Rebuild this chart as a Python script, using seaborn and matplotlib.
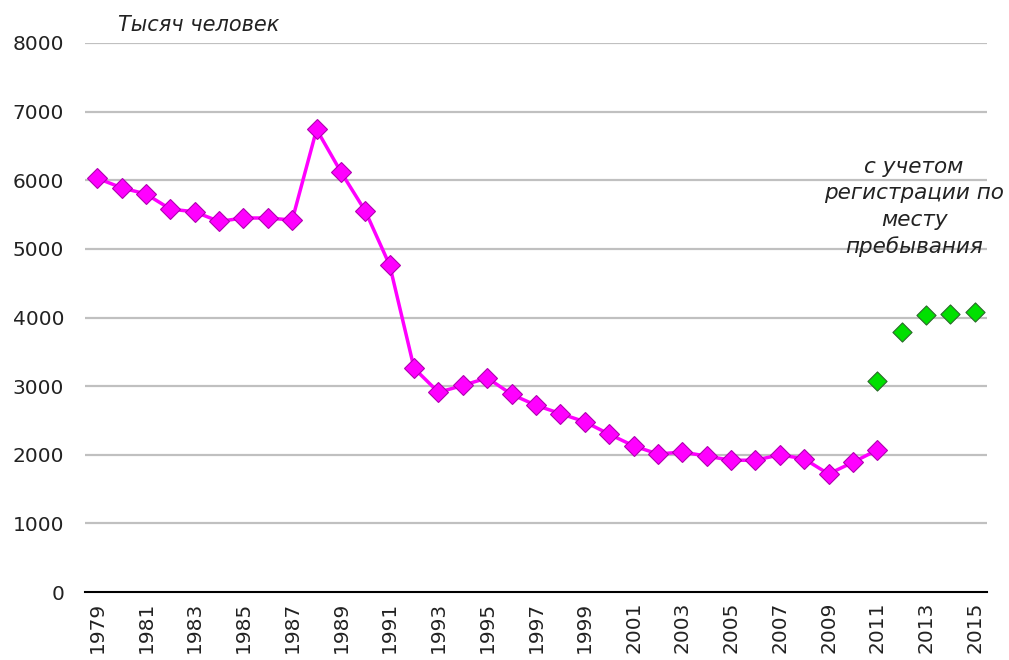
import matplotlib
matplotlib.use("Agg")
import matplotlib.pyplot as plt
import seaborn as sns
import pandas as pd

years = list(range(1979, 2012))
values = [6030, 5890, 5800, 5580, 5540, 5400, 5450, 5450, 5420, 6740,
          6120, 5550, 4760, 3260, 2910, 3010, 3120, 2880, 2720, 2600,
          2480, 2300, 2130, 2010, 2040, 1980, 1920, 1920, 2000, 1940,
          1720, 1890, 2070]
reg_years = [2011, 2012, 2013, 2014, 2015]
reg_values = [3070, 3790, 4040, 4050, 4080]
tick_years = list(range(1979, 2016, 2))
y_ticks = [0, 1000, 2000, 3000, 4000, 5000, 6000, 7000, 8000]

sns.set_theme(style="white")
plt.rcParams['font.family'] = ['DejaVu Sans']

fig = plt.figure(figsize=(10.09, 6.6), dpi=100)
ax = fig.add_axes([85/1009, 1-592/660, (987-85)/1009, (592-43)/660])

df = pd.DataFrame({"year": years, "value": values})
df2 = pd.DataFrame({"year": reg_years, "value": reg_values})

for t in y_ticks[1:]:
    ax.axhline(t, color="#c0c0c0", lw=1.6, zorder=0)

sns.lineplot(data=df, x="year", y="value", ax=ax, color="#ff00ff", lw=2.5,
             marker="D", markersize=10, markeredgecolor="#b000b0",
             markeredgewidth=0.8, markerfacecolor="#ff00ff")
sns.scatterplot(data=df2, x="year", y="value", ax=ax, color="#00e000",
                marker="D", s=95, edgecolor="#2a6a2a", linewidth=0.8, zorder=5)

ax.set_xlim(1978.5, 2015.5)
ax.set_ylim(0, 8000)
ax.set_yticks(y_ticks)
ax.set_yticklabels([str(v) for v in y_ticks], fontsize=14.5, color="#222222")
ax.set_xticks(tick_years)
ax.set_xticklabels([str(v) for v in tick_years], rotation=90, fontsize=14.5,
                   color="#222222")
ax.tick_params(axis="y", length=0, pad=15)
ax.tick_params(axis="x", length=0, pad=7)
ax.set_xlabel("")
ax.set_ylabel("")
for s in ["top", "right", "left"]:
    ax.spines[s].set_visible(False)
ax.spines["bottom"].set_color("#000000")
ax.spines["bottom"].set_linewidth(1.5)

fig.text(118/1009, 1-25/660, "Тысяч человек", fontsize=15, style="italic",
         va="center", ha="left", color="#222222")
fig.text(914/1009, 1-207/660, "с учетом\nрегистрации по\nместу\nпребывания",
         fontsize=15.5, style="italic", ha="center", va="center",
         linespacing=1.4, color="#222222")

fig.savefig("out.png", dpi=100)
